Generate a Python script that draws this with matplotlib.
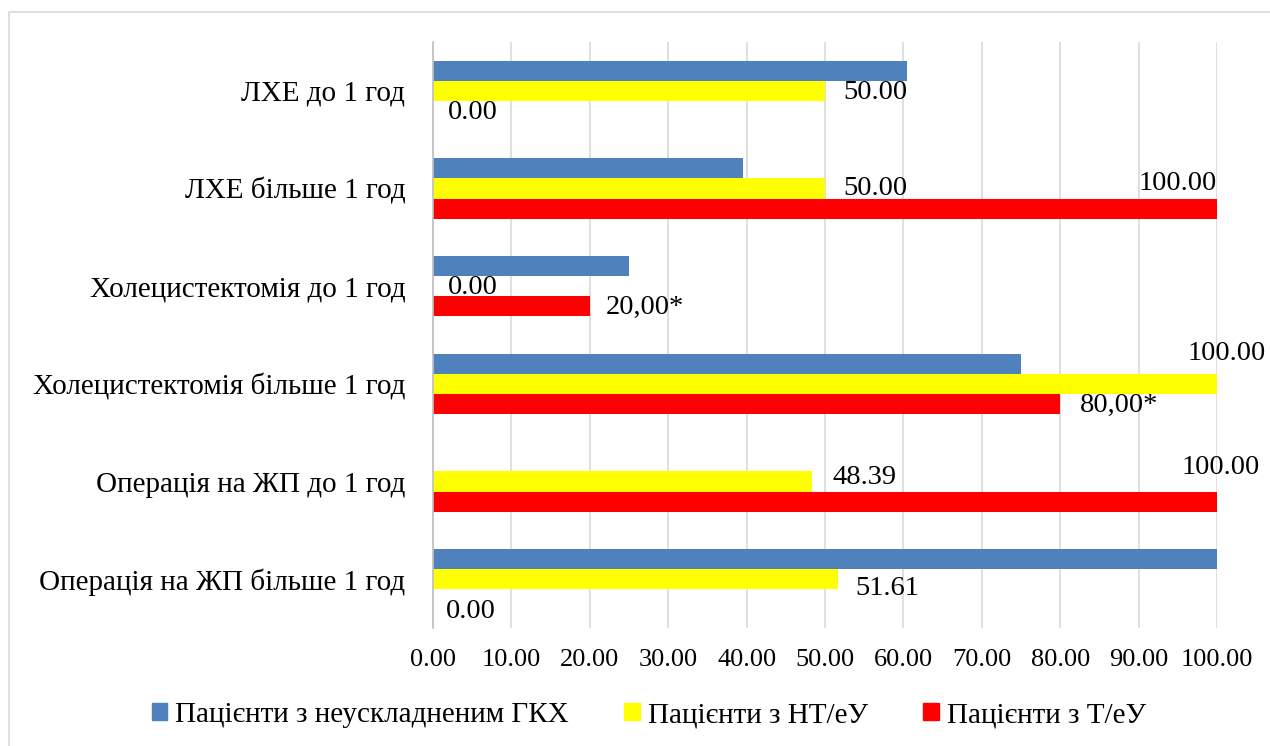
import matplotlib
matplotlib.use("Agg")
import matplotlib.pyplot as plt
import matplotlib.patches as mpatches
import numpy as np

plt.rcParams['font.family'] = ['Liberation Serif', 'DejaVu Serif']
plt.rcParams['font.size'] = 19

# categories, top to bottom
categories = ["ЛХЕ до 1 год", "ЛХЕ більше 1 год", "Холецистектомія до 1 год",
              "Холецистектомія більше 1 год", "Операція на ЖП до 1 год",
              "Операція на ЖП більше 1 год"]
series_names = ["Пацієнти з неускладненим ГКХ", "Пацієнти з НТ/еУ", "Пацієнти з Т/еУ"]

gkh_vals = [60.4, 39.6, 25.0, 75.0, 0.0, 100.0]
nt_vals = [50.00, 50.00, 0.00, 100.00, 48.39, 51.61]
t_vals = [0.00, 100.00, 20.00, 80.00, 100.00, 0.00]

nt_labels = ["50.00", "50.00", "0.00", "100.00", "48.39", "51.61"]
t_labels = ["0.00", "100.00", "20,00*", "80,00*", "100.00", "0.00"]

xticks = [0, 10, 20, 30, 40, 50, 60, 70, 80, 90, 100]

colors = ["#4F81BD", "#FFFF00", "#FF0000"]

# label nudges in pixels (dx, dy down) and horizontal alignment
nt_offsets = [(18, 2, 'left'), (18, 0, 'left'), (15, 1, 'left'),
              (10, -30, 'center'), (20, -4, 'left'), (18, 9, 'left')]
t_offsets = [(15, 2, 'left'), (0, -25, 'right'), (16, 1, 'left'),
             (20, 2, 'left'), (4, -34, 'center'), (13, 12, 'left')]

fig = plt.figure(figsize=(12.7, 7.46), dpi=100)
ax = fig.add_axes([433/1270, 1 - 628/746, (1217 - 433)/1270, (628 - 42)/746])

# light frame around the chart area
fig.patches.append(mpatches.Rectangle((9/1270, -0.1), 1.2, 1 - 12/746 + 0.1,
                                      transform=fig.transFigure, fill=False,
                                      edgecolor="#d9d9d9", linewidth=1.2))

y = np.arange(len(categories))
h = 0.205
all_vals = [gkh_vals, nt_vals, t_vals]
for i, (vals, c, name) in enumerate(zip(all_vals, colors, series_names)):
    ax.barh(y + (i - 1) * h, vals, height=h, color=c, label=name, zorder=3)

for k in range(len(categories)):
    for vals, labs, offs, shift in ((nt_vals, nt_labels, nt_offsets, 0),
                                    (t_vals, t_labels, t_offsets, h)):
        dx, dy, ha = offs[k]
        ax.annotate(labs[k], xy=(vals[k], y[k] + shift), xytext=(dx, -dy),
                    textcoords='offset pixels', ha=ha, va='center',
                    fontsize=20.5, annotation_clip=False, zorder=4)

ax.set_xlim(0, 100)
ax.set_ylim(len(categories) - 0.5, -0.5)
ax.set_xticks(xticks)
ax.set_xticklabels([f"{t:.2f}" for t in xticks], fontsize=19)
ax.set_yticks(y)
ax.set_yticklabels(categories, fontsize=21)
ax.tick_params(axis='both', length=0)
ax.tick_params(axis='x', pad=15)
ax.tick_params(axis='y', pad=20)
ax.grid(axis='x', color="#d9d9d9", linewidth=1.2, zorder=0)
for s in ("top", "right", "bottom"):
    ax.spines[s].set_visible(False)
ax.spines["left"].set_color("#bfbfbf")
ax.spines["left"].set_linewidth(1.2)
ax.spines["left"].set_zorder(5)

handles = [mpatches.Patch(color=c) for c in colors]
fig.legend(handles, series_names, loc='center', bbox_to_anchor=(0.511, 1 - 715/746),
           ncol=3, frameon=False, fontsize=21, handlelength=0.52, handleheight=0.52,
           handletextpad=0.28, columnspacing=1.9)

fig.savefig("out.png", dpi=100, facecolor="white")
